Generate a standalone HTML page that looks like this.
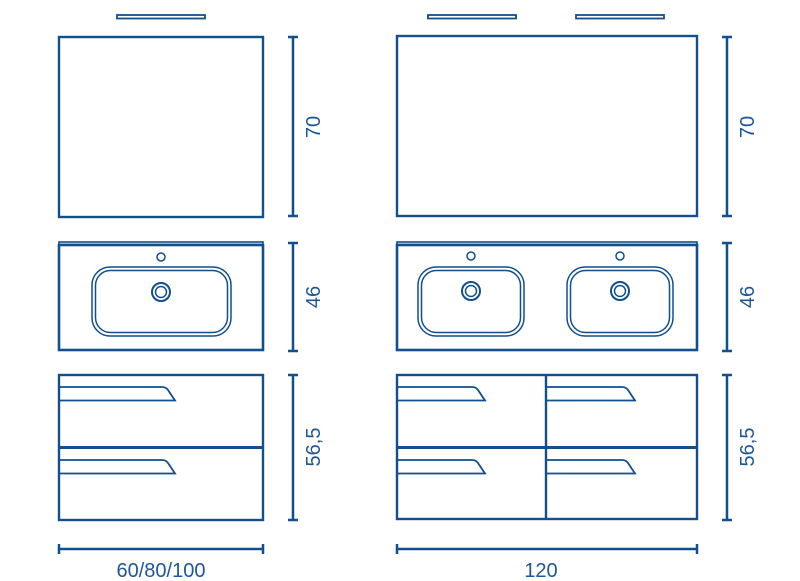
<!DOCTYPE html>
<html><head><meta charset="utf-8"><style>
html,body{margin:0;padding:0;background:#fff;}
svg{display:block;}
text{font-family:"Liberation Sans",sans-serif;font-size:20px;fill:#1d5797;}
</style></head><body>
<svg width="800" height="581" viewBox="0 0 800 581" xmlns="http://www.w3.org/2000/svg">
<g fill="none" stroke="#114f8e" stroke-width="2.4">
<!-- lamps -->
<rect x="117" y="15" width="88" height="3.5" stroke-width="1.8"/>
<rect x="428" y="15" width="88" height="3.5" stroke-width="1.8"/>
<rect x="576" y="15" width="88" height="3.5" stroke-width="1.8"/>
<!-- mirrors -->
<rect x="59" y="37" width="204" height="180"/>
<rect x="397" y="36" width="300" height="180"/>
<!-- sinks -->
<rect x="59" y="242" width="204" height="2.5" stroke-width="1.6"/>
<rect x="59" y="245" width="204" height="105" stroke-width="2.6"/>
<rect x="397" y="242" width="300" height="2.5" stroke-width="1.6"/>
<rect x="397" y="245" width="300" height="105" stroke-width="2.6"/>
<g stroke-width="1.5">
<rect x="92" y="267" width="139" height="69" rx="18"/>
<rect x="95.5" y="270.5" width="132" height="62" rx="15"/>
<circle cx="161" cy="257" r="4"/>
<circle cx="161" cy="292" r="9" stroke-width="2"/>
<circle cx="161" cy="292" r="5.5"/>
<rect x="418" y="267" width="106" height="69" rx="18"/>
<rect x="421.5" y="270.5" width="99" height="62" rx="15"/>
<circle cx="471" cy="256" r="4"/>
<circle cx="471" cy="291" r="9" stroke-width="2"/>
<circle cx="471" cy="291" r="5.5"/>
<rect x="567" y="267" width="106" height="69" rx="18"/>
<rect x="570.5" y="270.5" width="99" height="62" rx="15"/>
<circle cx="620" cy="256" r="4"/>
<circle cx="620" cy="291" r="9" stroke-width="2"/>
<circle cx="620" cy="291" r="5.5"/>
</g>
<!-- cabinets -->
<rect x="59" y="375" width="204" height="145"/>
<line x1="59" y1="447.5" x2="263" y2="447.5" stroke-width="3"/>
<path d="M59 387 H162 Q166 387 168 390 L175 400.5 H59" stroke-width="1.8"/>
<path d="M59 460 H162 Q166 460 168 463 L175 473.5 H59" stroke-width="1.8"/>
<rect x="397" y="375" width="300" height="144"/>
<line x1="397" y1="447.5" x2="697" y2="447.5" stroke-width="3"/>
<line x1="546" y1="375" x2="546" y2="519"/>
<path d="M397 387 H472 Q476 387 478 390 L485 400.5 H397" stroke-width="1.8"/>
<path d="M397 460 H472 Q476 460 478 463 L485 473.5 H397" stroke-width="1.8"/>
<path d="M547 387 H622 Q626 387 628 390 L635 400.5 H547" stroke-width="1.8"/>
<path d="M547 460 H622 Q626 460 628 463 L635 473.5 H547" stroke-width="1.8"/>
<!-- dims -->
<g stroke-width="2.5">
<path d="M293 37V216M288 37H298M288 216H298"/>
<path d="M293 243V351M288 243H298M288 351H298"/>
<path d="M293 375V520M288 375H298M288 520H298"/>
<path d="M727 37V216M722 37H732M722 216H732"/>
<path d="M727 243V351M722 243H732M722 351H732"/>
<path d="M727 375V520M722 375H732M722 520H732"/>
<path d="M59 549H263M59 544V554M263 544V554"/>
<path d="M397 549H697M397 544V554M697 544V554"/>
</g>
</g>
<text transform="translate(320,127) rotate(-90)" text-anchor="middle">70</text>
<text transform="translate(320,297) rotate(-90)" text-anchor="middle">46</text>
<text transform="translate(320,447) rotate(-90)" text-anchor="middle">56,5</text>
<text transform="translate(754,127) rotate(-90)" text-anchor="middle">70</text>
<text transform="translate(754,297) rotate(-90)" text-anchor="middle">46</text>
<text transform="translate(754,447) rotate(-90)" text-anchor="middle">56,5</text>
<text x="161" y="577" text-anchor="middle">60/80/100</text>
<text x="541" y="577" text-anchor="middle">120</text>
</svg>
</body></html>
